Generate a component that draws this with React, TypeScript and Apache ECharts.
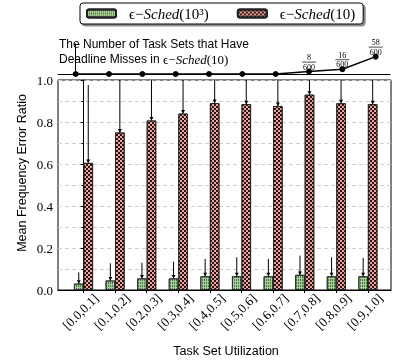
import React, { useEffect, useRef } from "react";
import * as echarts from "echarts";

const categories = ["[0.0,0.1]", "[0.1,0.2]", "[0.2,0.3]", "[0.3,0.4]", "[0.4,0.5]", "[0.5,0.6]", "[0.6,0.7]", "[0.7,0.8]", "[0.8,0.9]", "[0.9,1.0]"];
const seriesNames = ["ϵ−Sched(10³)", "ϵ−Sched(10)"];
const schedK = [0.03, 0.045, 0.055, 0.055, 0.065, 0.065, 0.065, 0.072, 0.065, 0.065];
const schedKUpper = [0.084, 0.127, 0.13, 0.135, 0.148, 0.156, 0.148, 0.164, 0.156, 0.153];
const sched10 = [0.605, 0.75, 0.807, 0.84, 0.89, 0.885, 0.876, 0.93, 0.889, 0.885];
const sched10Upper = [0.976, 1.1, 1.1, 1.1, 1.1, 1.1, 1.1, 1.1, 1.1, 1.1];
const missCounts = [0, 0, 0, 0, 0, 0, 0, 8, 16, 58];
const totalSets = 600;
const yTicks = [0, 0.2, 0.4, 0.6, 0.8, 1.0];

const SERIF = "'Liberation Serif', 'DejaVu Serif', serif";
const SANS = "'Liberation Sans', 'DejaVu Sans', sans-serif";
const LABEL_SHIFT = 0.4;

export default function App() {
  const ref = useRef<HTMLDivElement>(null);
  useEffect(() => {
    if (!ref.current) return;
    const chart = echarts.init(ref.current, null, { renderer: "svg" });
    const idx = categories.map((_, i) => i);

    const errRender = (offset: number) => (params: any, api: any) => {
      const p0 = api.coord([api.value(0), api.value(1)]);
      const p1 = api.coord([api.value(0), api.value(2)]);
      const cx = p0[0] + offset;
      return {
        type: "group",
        children: [
          { type: "line", shape: { x1: cx, y1: p0[1], x2: cx, y2: p1[1] }, style: { stroke: "#000", lineWidth: 1 } },
          { type: "polygon", shape: { points: [[cx - 2, p0[1] - 3.5], [cx + 2, p0[1] - 3.5], [cx, p0[1]]] }, style: { fill: "#000" } },
        ],
      };
    };

    const fracRender = (params: any, api: any) => {
      const c = api.value(1);
      if (!c) return null;
      const p = api.coord([api.value(0), c]);
      const x = p[0];
      const y = p[1];
      return {
        type: "group",
        children: [
          { type: "text", x, y: y - 14, style: { text: String(c), font: `8px ${SERIF}`, fill: "#000", align: "center", verticalAlign: "middle" } },
          { type: "line", shape: { x1: x - 7, y1: y - 9.5, x2: x + 7, y2: y - 9.5 }, style: { stroke: "#000", lineWidth: 0.7 } },
          { type: "text", x, y: y - 4.5, style: { text: String(totalSets), font: `8px ${SERIF}`, fill: "#000", align: "center", verticalAlign: "middle" } },
        ],
      };
    };

    const greenStyle = {
      color: "#a9cf98",
      borderColor: "#222",
      borderWidth: 0.8,
      decal: { symbol: "rect", symbolSize: 1, color: "rgba(50,100,50,0.8)", dashArrayX: [1, 1], dashArrayY: [2, 1], rotation: 0 },
    };
    const redStyle = {
      color: "#f3a19c",
      borderColor: "#222",
      borderWidth: 0.8,
      decal: { symbol: "rect", symbolSize: 1, color: "rgba(0,0,0,0.85)", dashArrayX: [[2, 2], [0, 2, 2, 0]], dashArrayY: [2, 0], rotation: 0 },
    };

    chart.setOption({
      animation: false,
      legend: {
        left: 80,
        top: 3,
        data: seriesNames,
        itemWidth: 29,
        itemHeight: 8,
        itemGap: 28,
        padding: [3, 8, 3, 6],
        backgroundColor: "#fff",
        borderColor: "#000",
        borderWidth: 1,
        borderRadius: 3,
        shadowColor: "rgba(0,0,0,0.45)",
        shadowOffsetX: 2,
        shadowOffsetY: 2,
        shadowBlur: 0,
        formatter: (name: string) => {
          const rest = name.replace("ϵ−Sched", "");
          return `{n|ϵ−}{i|Sched}{n|${rest}}`;
        },
        textStyle: {
          padding: [0, 0, 0, 8],
          rich: {
            i: { fontFamily: SERIF, fontStyle: "italic", fontSize: 15, color: "#000" },
            n: { fontFamily: SERIF, fontSize: 15, color: "#000" },
          },
        },
      },
      grid: [
        { left: 58, right: 2, top: 80, bottom: 72, show: true, borderColor: "#000", borderWidth: 1, backgroundColor: "transparent" },
        { left: 58, right: 3, top: 44, height: 30 },
      ],
      xAxis: [
        {
          type: "value",
          gridIndex: 0,
          min: -0.807,
          max: 9.73,
          splitLine: { show: false },
          axisLine: { show: true, lineStyle: { color: "#000" } },
          axisTick: { show: true, customValues: idx, length: 3, lineStyle: { color: "#000" } },
          axisLabel: {
            show: true,
            customValues: idx.map((i) => i + LABEL_SHIFT),
            rotate: 45,
            margin: 6,
            fontFamily: SERIF,
            fontSize: 13,
            color: "#000",
            formatter: (v: number) => categories[Math.round(v - LABEL_SHIFT)] ?? "",
          },
        },
        {
          type: "value",
          gridIndex: 1,
          min: -0.531,
          max: 9.43,
          splitLine: { show: false },
          axisLine: { show: true, onZero: true, lineStyle: { color: "#000" } },
          axisTick: { show: false },
          axisLabel: { show: false },
        },
      ],
      yAxis: [
        {
          type: "value",
          gridIndex: 0,
          min: 0,
          max: 1,
          interval: 0.2,
          axisLine: { show: true, lineStyle: { color: "#000" } },
          axisTick: { show: true, length: 3, lineStyle: { color: "#000" } },
          minorTick: { show: true, splitNumber: 2, length: 2, lineStyle: { color: "#000" } },
          splitLine: { show: true, lineStyle: { color: "#cfcfcf", type: [4, 3], width: 1 } },
          minorSplitLine: { show: true, lineStyle: { color: "#cfcfcf", type: [4, 3], width: 1 } },
          axisLabel: {
            margin: 5,
            fontFamily: SERIF,
            fontSize: 13,
            color: "#000",
            customValues: yTicks,
            formatter: (v: number) => v.toFixed(1),
          },
        },
        {
          type: "value",
          gridIndex: 1,
          position: "right",
          min: 0,
          max: 100,
          interval: 50,
          axisLine: { show: true, lineStyle: { color: "#000" } },
          axisTick: { show: true, inside: false, length: 4, lineStyle: { color: "#000" } },
          axisLabel: { show: false },
          splitLine: { show: false },
        },
      ],
      series: [
        {
          name: seriesNames[0],
          type: "bar",
          xAxisIndex: 0,
          yAxisIndex: 0,
          barWidth: 9.5,
          barGap: "0%",
          itemStyle: greenStyle,
          data: schedK.map((v, i) => [i, v]),
          z: 2,
        },
        {
          name: seriesNames[1],
          type: "bar",
          xAxisIndex: 0,
          yAxisIndex: 0,
          barWidth: 9.5,
          barGap: "0%",
          itemStyle: redStyle,
          data: sched10.map((v, i) => [i, v]),
          z: 2,
        },
        {
          type: "custom",
          xAxisIndex: 0,
          yAxisIndex: 0,
          clip: true,
          z: 5,
          renderItem: errRender(-4.75),
          data: schedK.map((v, i) => [i, v, schedKUpper[i]]),
        },
        {
          type: "custom",
          xAxisIndex: 0,
          yAxisIndex: 0,
          clip: true,
          z: 5,
          renderItem: errRender(4.75),
          data: sched10.map((v, i) => [i, v, sched10Upper[i]]),
        },
        {
          type: "line",
          xAxisIndex: 1,
          yAxisIndex: 1,
          data: missCounts.map((c, i) => [i, c]),
          symbol: "circle",
          symbolSize: 6,
          lineStyle: { color: "#000", width: 1.5 },
          itemStyle: { color: "#000" },
          z: 5,
        },
        {
          type: "custom",
          xAxisIndex: 1,
          yAxisIndex: 1,
          clip: false,
          z: 6,
          renderItem: fracRender,
          data: missCounts.map((c, i) => [i, c]),
        },
      ],
      graphic: [
        {
          type: "text",
          left: 59,
          top: 38,
          style: {
            text: "{s|The Number of Task Sets that Have}\n{s|Deadline Misses in }{m|ϵ−}{i|Sched}{m|(10)}",
            rich: {
              s: { fontFamily: SANS, fontSize: 12, fill: "#000", lineHeight: 15 },
              m: { fontFamily: SERIF, fontSize: 13, fill: "#000", lineHeight: 15 },
              i: { fontFamily: SERIF, fontStyle: "italic", fontSize: 13, fill: "#000", lineHeight: 15 },
            },
          },
        },
        {
          type: "text",
          x: 22,
          y: 173,
          rotation: Math.PI / 2,
          style: { text: "Mean Frequency Error Ratio", font: `12.5px ${SANS}`, fill: "#000", align: "center", verticalAlign: "middle" },
        },
        {
          type: "text",
          x: 226,
          y: 351,
          style: { text: "Task Set Utilization", font: `12.5px ${SANS}`, fill: "#000", align: "center", verticalAlign: "middle" },
        },
      ],
    });
    return () => chart.dispose();
  }, []);
  return <div ref={ref} style={{ width: 393, height: 362, position: "fixed", left: 0, top: 0 }} />;
}
